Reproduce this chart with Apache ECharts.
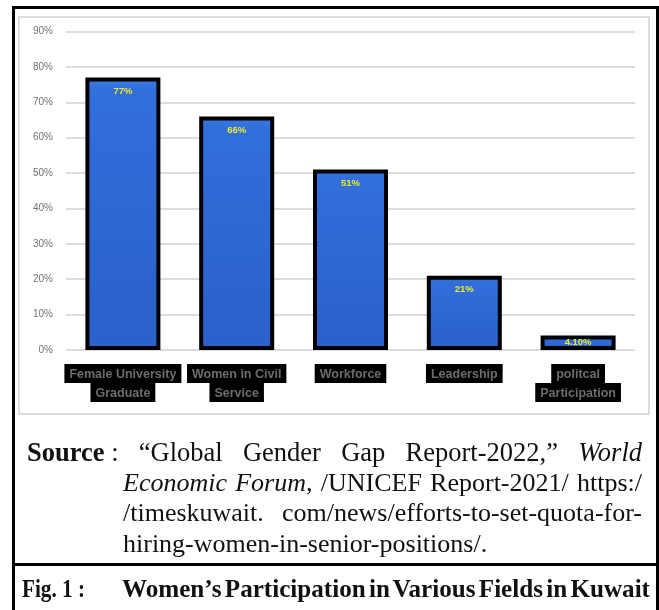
<!DOCTYPE html>
<html>
<head>
<meta charset="utf-8">
<script src="https://cdn.jsdelivr.net/npm/echarts@6/dist/echarts.min.js"></script>
<style>
    html, body { margin: 0; padding: 0; background: #fff; }
    body { width: 659px; height: 610px; position: relative; overflow: hidden; }
    #outer { position: absolute; left: 12px; top: 6px; width: 647px; height: 640px; box-sizing: border-box; border: 3px solid #000; }
    #inner { position: absolute; left: 18px; top: 16px; width: 632px; height: 399px; box-sizing: border-box; border: 2px solid #dcdcdc; }
    #sep { position: absolute; left: 12px; top: 563px; width: 647px; height: 3px; background: #000; }
    #chart { position: absolute; left: 0; top: 0; width: 659px; height: 610px; }
    .src { position: absolute; left: 123px; width: 519px; font-family: "Liberation Serif", "Times New Roman", serif; font-size: 26px; line-height: 30.5px; color: #111; white-space: nowrap; }
    .just { text-align: justify; text-align-last: justify; }
    .unit { display: inline-block; }
    #l1 { left: 27px; width: 615px; top: 437px; font-size: 26.5px; }
    #l2 { top: 467.5px; }
    #l3 { top: 498px; }
    #l4 { top: 528.5px; }
    .fig { position: absolute; top: 574px; font-family: "Liberation Serif", "Times New Roman", serif; font-size: 25px; font-weight: bold; line-height: 30px; color: #111; white-space: nowrap; transform-origin: 0 0; }
    #f1 { left: 22px; }
    #f2 { left: 122px; word-spacing: -3px; }
</style>
</head>
<body>
<div id="outer"></div>
<div id="inner"></div>
<div id="sep"></div>
<div id="chart"></div>
<div class="src just" id="l1"><span class="unit"><b>Source</b> :</span> “Global Gender Gap Report-2022,” <i>World</i></div>
<div class="src just" id="l2"><i>Economic Forum,</i> /UNICEF Report-2021/ https:/</div>
<div class="src just" id="l3">/timeskuwait. com/news/efforts-to-set-quota-for-</div>
<div class="src" id="l4">hiring-women-in-senior-positions/.</div>
<div class="fig" id="f1">Fig. 1 :</div>
<div class="fig" id="f2">Women’s Participation in Various Fields in Kuwait</div>
<script>
var categories = ['Female University\nGraduate', 'Women in Civil\nService', 'Workforce', 'Leadership', 'politcal\nParticipation'];
var values = [77, 66, 51, 21, 4.1];
var valueLabels = ['77%', '66%', '51%', '21%', '4.10%'];
var yMin = 0, yMax = 90, yStep = 10;

// squeeze the caption to its printed width
function fitWidth(id, target) {
    var el = document.getElementById(id);
    var w = el.getBoundingClientRect().width;
    el.style.transform = 'scaleX(' + (target / w) + ')';
}
fitWidth('f1', 63);
fitWidth('f2', 528);

var myChart = echarts.init(document.getElementById('chart'));

var barData = values.map(function (v, i) {
    return {
        value: v,
        label: {
            formatter: valueLabels[i],
            position: v < 10 ? 'inside' : 'insideTop',
            distance: 9
        }
    };
});

var option = {
    animation: false,
    grid: {
        left: 66,
        right: 24,
        top: 31.5,
        bottom: 260
    },
    xAxis: {
        type: 'category',
        data: categories,
        axisLine: { show: false },
        axisTick: { show: false },
        axisLabel: {
            interval: 0,
            margin: 14,
            hideOverlap: false,
            formatter: function (name) {
                return name.split('\n').map(function (s) {
                    return '{a|' + s + '}';
                }).join('\n');
            },
            rich: {
                a: {
                    backgroundColor: '#000',
                    color: '#6c6c6c',
                    fontFamily: 'Liberation Sans, Arial, sans-serif',
                    fontWeight: 'bold',
                    fontSize: 12.5,
                    lineHeight: 19,
                    padding: [4, 5, 2, 5]
                }
            }
        }
    },
    yAxis: {
        type: 'value',
        min: yMin,
        max: yMax,
        interval: yStep,
        axisLine: { show: false },
        axisTick: { show: false },
        axisLabel: {
            margin: 13,
            color: '#737373',
            fontFamily: 'Liberation Sans, Arial, sans-serif',
            fontSize: 10,
            formatter: '{value}%'
        },
        splitLine: {
            lineStyle: { color: '#dcdcdc', width: 2 }
        }
    },
    series: [{
        type: 'bar',
        data: barData,
        barWidth: 75,
        itemStyle: {
            color: new echarts.graphic.LinearGradient(0, 0, 0, 1, [
                { offset: 0, color: '#3a7ae2' },
                { offset: 0.05, color: '#316fdc' },
                { offset: 1, color: '#2a60c9' }
            ]),
            borderColor: '#000',
            borderWidth: 4
        },
        label: {
            show: true,
            color: '#ecec2a',
            fontFamily: 'Liberation Sans, Arial, sans-serif',
            fontWeight: 'bold',
            fontSize: 9.5
        }
    }]
};
myChart.setOption(option);
</script>
</body>
</html>
